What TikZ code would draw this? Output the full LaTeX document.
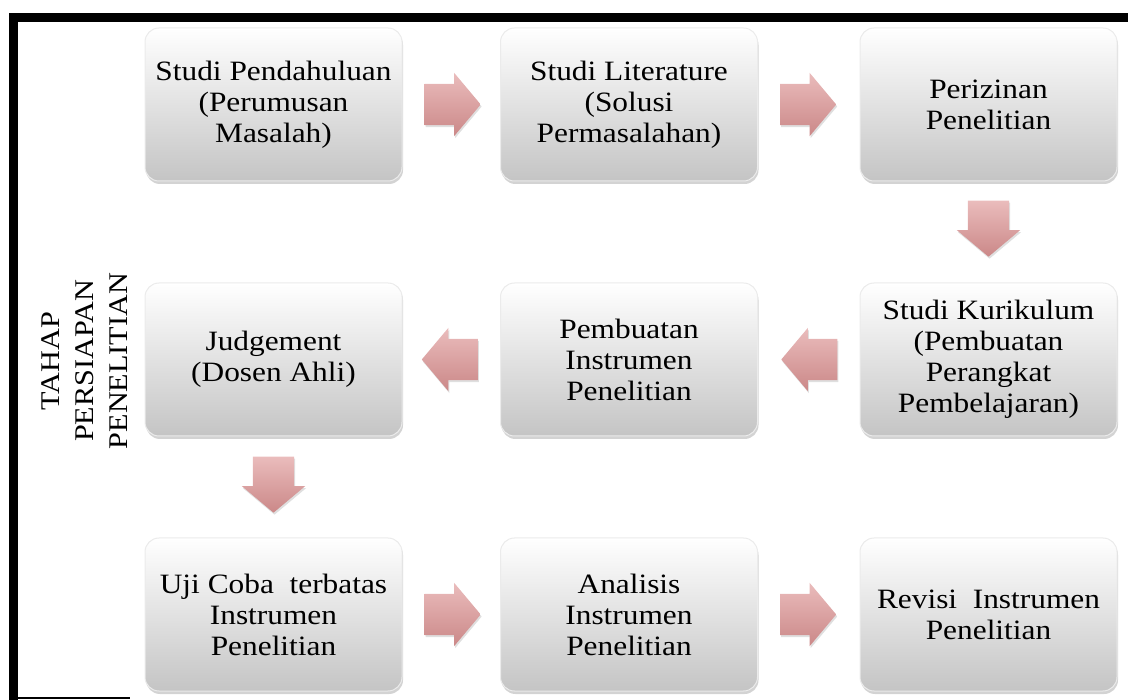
\documentclass[tikz,border=0pt]{standalone}
\usepackage{fontspec}
\setmainfont{Liberation Serif}[FakeStretch=1.12]
\usepackage{tikz}
\usepackage{xcolor}
\usetikzlibrary{shapes,shapes.arrows,positioning,shadows,calc}

\definecolor{arrowtop}{RGB}{234,188,188}
\definecolor{arrowbot}{RGB}{203,136,136}

\begin{document}
\begin{tikzpicture}[x=1pt, y=-1pt,
    stagebox/.style={rounded corners=14pt, minimum width=257pt, minimum height=153pt,
        inner sep=0pt, align=center, top color=white, bottom color=black!23,
        draw=black!8, line width=1pt,
        drop shadow={shadow xshift=1pt, shadow yshift=-3pt, opacity=0.35},
        font=\fontsize{28}{31}\selectfont},
    flowarrow/.style={single arrow, single arrow head extend=11pt, single arrow tip angle=100,
        minimum height=56pt, top color=arrowtop, bottom color=arrowbot, draw=none,
        drop shadow={shadow xshift=1pt, shadow yshift=-2pt, opacity=0.25}},
    flowright/.style={flowarrow, inner xsep=0pt, inner ysep=20.5pt},
    flowleft/.style={flowarrow, inner xsep=0pt, inner ysep=20.5pt, shape border rotate=180},
    flowdown/.style={flowarrow, inner xsep=20.5pt, inner ysep=0pt, shape border rotate=270}]
    \useasboundingbox (0,0) rectangle (1128,700);

    % Frame
    \draw[line width=9pt] (13.5,700) -- (13.5,18) -- (1128,18);
    \draw[line width=1.2pt] (9,698) -- (130,698);

    % Side label
    \node[rotate=90, align=center, font=\fontsize{27}{34}\selectfont] (tahap) at (85,361)
        {TAHAP\\PERSIAPAN\\PENELITIAN};

    % Stages
    \node[stagebox] (s1) at (273.5,104.5) {Studi Pendahuluan\\(Perumusan\\Masalah)};
    \node[stagebox] (s2) at (629,104.5) {Studi Literature\\(Solusi\\Permasalahan)};
    \node[stagebox] (s3) at (988.5,104.5) {Perizinan\\Penelitian};
    \node[stagebox] (s4) at (988.5,359.5) {Studi Kurikulum\\(Pembuatan\\Perangkat\\Pembelajaran)};
    \node[stagebox] (s5) at (629,359.5) {Pembuatan\\Instrumen\\Penelitian};
    \node[stagebox] (s6) at (273.5,359.5) {Judgement\\(Dosen Ahli)};
    \node[stagebox] (s7) at (273.5,614.5) {Uji Coba\ \ terbatas\\Instrumen\\Penelitian};
    \node[stagebox] (s8) at (629,614.5) {Analisis\\Instrumen\\Penelitian};
    \node[stagebox] (s9) at (988.5,614.5) {Revisi\ \ Instrumen\\Penelitian};

    % Flow arrows
    \node[flowright, right=22pt of s1, anchor=tail] (a12) {};
    \node[flowright, right=22pt of s2, anchor=tail] (a23) {};
    \node[flowdown, below=19pt of s3, anchor=tail] (a34) {};
    \node[flowleft, left=22pt of s4, anchor=tail] (a45) {};
    \node[flowleft, left=22pt of s5, anchor=tail] (a56) {};
    \node[flowdown, below=20pt of s6, anchor=tail] (a67) {};
    \node[flowright, right=22pt of s7, anchor=tail] (a78) {};
    \node[flowright, right=22pt of s8, anchor=tail] (a89) {};
\end{tikzpicture}
\end{document}
